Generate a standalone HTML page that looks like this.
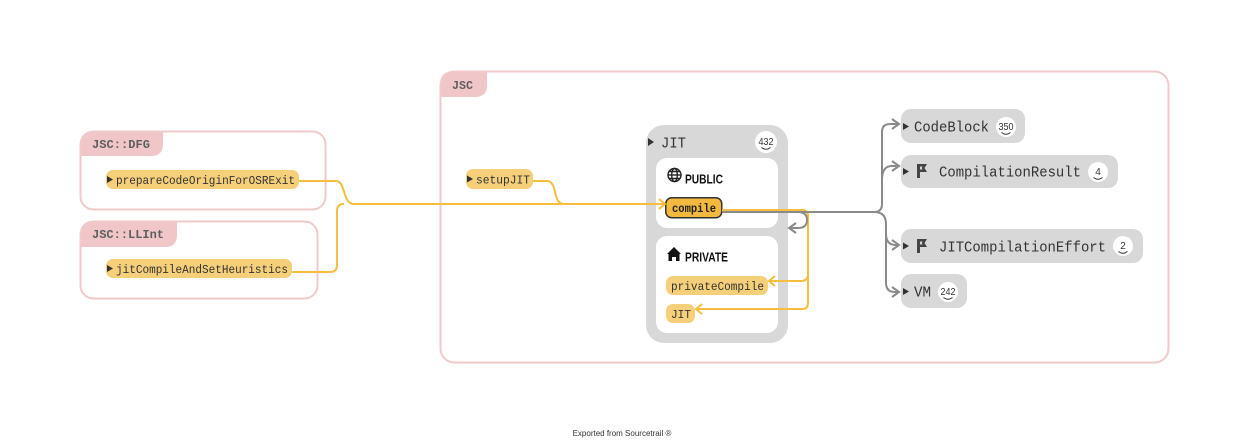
<!DOCTYPE html>
<html><head><meta charset="utf-8"><style>
html,body{margin:0;padding:0;background:#fff;}
svg{display:block;}
.mono{font-family:"Liberation Mono","DejaVu Sans Mono",monospace;}
.sans{font-family:"Liberation Sans","DejaVu Sans",sans-serif;}
</style></head><body>
<svg width="1240" height="443" viewBox="0 0 1240 443" xmlns="http://www.w3.org/2000/svg">
<rect width="1240" height="443" fill="#fff"/>

<!-- JSC::DFG -->
<path d="M80,156 V145 Q80,131 94,131 H163 V144 Q163,156 151,156 Z" fill="#f0c6c8"/>
<rect x="80.5" y="131.5" width="245" height="78" rx="13" fill="none" stroke="#f0caca" stroke-width="2"/>
<text x="92" y="148" class="mono" font-size="12" font-weight="bold" fill="#5e5e5e" textLength="58" lengthAdjust="spacingAndGlyphs">JSC::DFG</text>

<!-- JSC::LLInt -->
<path d="M80,247 V235 Q80,221 94,221 H177 V235 Q177,247 165,247 Z" fill="#f0c6c8"/>
<rect x="80.5" y="221.5" width="237" height="77" rx="13" fill="none" stroke="#f0caca" stroke-width="2"/>
<text x="92" y="238" class="mono" font-size="12" font-weight="bold" fill="#5e5e5e" textLength="72" lengthAdjust="spacingAndGlyphs">JSC::LLInt</text>

<!-- JSC -->
<path d="M440,97 V85 Q440,71 454,71 H487 V85 Q487,97 475,97 Z" fill="#f0c6c8"/>
<rect x="440.5" y="71.5" width="728" height="291" rx="14" fill="none" stroke="#f0caca" stroke-width="2"/>
<text x="452" y="89" class="mono" font-size="12" font-weight="bold" fill="#5e5e5e" textLength="21" lengthAdjust="spacingAndGlyphs">JSC</text>

<!-- Left nodes -->
<rect x="106" y="170" width="193" height="19" rx="7" fill="#f5cf79"/>
<path d="M107,176 L113,179.5 L107,183 Z" fill="#333"/>
<text x="116" y="184" class="mono" font-size="12" fill="#333" textLength="179" lengthAdjust="spacingAndGlyphs">prepareCodeOriginForOSRExit</text>

<rect x="106" y="259" width="186" height="19" rx="7" fill="#f5cf79"/>
<path d="M107,265 L113,268.5 L107,272 Z" fill="#333"/>
<text x="116" y="273" class="mono" font-size="12" fill="#333" textLength="172" lengthAdjust="spacingAndGlyphs">jitCompileAndSetHeuristics</text>

<!-- setupJIT -->
<rect x="466" y="169" width="67" height="20" rx="7" fill="#f5cf79"/>
<path d="M467,175.5 L473,179 L467,182.5 Z" fill="#333"/>
<text x="476" y="183.5" class="mono" font-size="12" fill="#333" textLength="54" lengthAdjust="spacingAndGlyphs">setupJIT</text>

<!-- JIT container -->
<rect x="646" y="125" width="142" height="218" rx="18" fill="#d8d8d8"/>
<path d="M648,138 L654,142 L648,146 Z" fill="#333"/>
<text x="661" y="147.5" class="mono" font-size="15" fill="#333" textLength="25" lengthAdjust="spacingAndGlyphs">JIT</text>
<circle cx="766" cy="142" r="11" fill="#fff"/>
<text x="766" y="145" text-anchor="middle" class="sans" font-size="10" fill="#333" textLength="15" lengthAdjust="spacingAndGlyphs">432</text>
<path d="M761.5,147.5 Q766,151 770.5,147.5" fill="none" stroke="#333" stroke-width="1"/>

<rect x="656" y="158" width="122" height="70" rx="11" fill="#fff"/>
<rect x="656" y="236" width="122" height="97" rx="11" fill="#fff"/>

<!-- globe -->
<g fill="none" stroke="#222" stroke-width="1.4">
<circle cx="674.5" cy="175" r="6.5"/>
<ellipse cx="674.5" cy="175" rx="2.8" ry="6.5"/>
<line x1="668" y1="175" x2="681" y2="175"/>
<path d="M669,171.5 H680 M669,178.5 H680"/>
</g>
<text x="685" y="183.5" class="sans" font-size="13" font-weight="bold" fill="#111" textLength="38" lengthAdjust="spacingAndGlyphs">PUBLIC</text>

<!-- house -->
<path d="M667,254 L674,247 L681,254 L679.5,254 L679.5,261 L676,261 L676,257 L672,257 L672,261 L668.5,261 L668.5,254 Z" fill="#111"/>
<text x="685" y="261.5" class="sans" font-size="13" font-weight="bold" fill="#111" textLength="43" lengthAdjust="spacingAndGlyphs">PRIVATE</text>

<!-- compile -->
<rect x="665.75" y="197.75" width="56" height="20" rx="6" fill="#f3b93e" stroke="#333" stroke-width="1.5"/>
<text x="672" y="212" class="mono" font-size="12" font-weight="bold" fill="#222" textLength="44" lengthAdjust="spacingAndGlyphs">compile</text>

<rect x="666" y="276" width="102" height="19" rx="7" fill="#f5cf79"/>
<text x="671" y="290" class="mono" font-size="12" fill="#333" textLength="93" lengthAdjust="spacingAndGlyphs">privateCompile</text>

<rect x="666" y="304" width="29" height="19" rx="7" fill="#f5cf79"/>
<text x="671" y="318" class="mono" font-size="12" fill="#333" textLength="20" lengthAdjust="spacingAndGlyphs">JIT</text>

<!-- right nodes -->
<rect x="901" y="109" width="124" height="34" rx="10" fill="#d8d8d8"/>
<path d="M903,123 L909,126.5 L903,130 Z" fill="#333"/>
<text x="914" y="131.5" class="mono" font-size="15" fill="#333" textLength="75" lengthAdjust="spacingAndGlyphs">CodeBlock</text>
<circle cx="1006" cy="127" r="10" fill="#fff"/>
<text x="1006" y="130" text-anchor="middle" class="sans" font-size="10" fill="#333" textLength="15" lengthAdjust="spacingAndGlyphs">350</text>
<path d="M1001.5,132.5 Q1006,136 1010.5,132.5" fill="none" stroke="#333" stroke-width="1"/>

<rect x="901" y="155" width="217" height="33" rx="10" fill="#d8d8d8"/>
<path d="M903,168 L909,171.5 L903,175 Z" fill="#333"/>
<path d="M917,164 H927 L924.5,168 L927,172 H920 V178 H917 Z M920,166.5 V169.5 H922.5 L921.8,168 L922.5,166.5 Z" fill="#444" fill-rule="evenodd"/>
<text x="939" y="176.5" class="mono" font-size="15" fill="#333" textLength="142" lengthAdjust="spacingAndGlyphs">CompilationResult</text>
<circle cx="1098" cy="172" r="10" fill="#fff"/>
<text x="1098" y="175" text-anchor="middle" class="sans" font-size="10" fill="#333">4</text>
<path d="M1093.5,177.5 Q1098,181 1102.5,177.5" fill="none" stroke="#333" stroke-width="1"/>

<rect x="901" y="229" width="242" height="34" rx="10" fill="#d8d8d8"/>
<path d="M903,242.5 L909,246 L903,249.5 Z" fill="#333"/>
<path d="M917,239 H927 L924.5,243 L927,247 H920 V253 H917 Z M920,241.5 V244.5 H922.5 L921.8,243 L922.5,241.5 Z" fill="#444" fill-rule="evenodd"/>
<text x="939" y="251.5" class="mono" font-size="15" fill="#333" textLength="167" lengthAdjust="spacingAndGlyphs">JITCompilationEffort</text>
<circle cx="1123" cy="246" r="10" fill="#fff"/>
<text x="1123" y="249" text-anchor="middle" class="sans" font-size="10" fill="#333">2</text>
<path d="M1118.5,251.5 Q1123,255 1127.5,251.5" fill="none" stroke="#333" stroke-width="1"/>

<rect x="901" y="274" width="66" height="34" rx="10" fill="#d8d8d8"/>
<path d="M903,288 L909,291.5 L903,295 Z" fill="#333"/>
<text x="914" y="296.5" class="mono" font-size="15" fill="#333" textLength="17" lengthAdjust="spacingAndGlyphs">VM</text>
<circle cx="948" cy="292" r="10" fill="#fff"/>
<text x="948" y="295" text-anchor="middle" class="sans" font-size="10" fill="#333" textLength="15" lengthAdjust="spacingAndGlyphs">242</text>
<path d="M943.5,297.5 Q948,301 952.5,297.5" fill="none" stroke="#333" stroke-width="1"/>

<!-- yellow edges (on top) -->
<g fill="none" stroke="#f5be3e" stroke-width="2">
<path d="M299,181 H336 C346,181 342,204 354,204 H664"/>
<path d="M292,272 H330 Q337,272 337,265 V211 Q337,204 344,204"/>
<path d="M533,181 H547 C558,181 552,204 564,204"/>
<path d="M659,199 L665,204 L659,209"/>
<path d="M722,210 H802 Q808,210 808,216 V303 Q808,309 802,309 H696"/>
<path d="M808,274 Q808,281 801,281 H769"/>
<path d="M775,276 L769,281 L775,286"/>
<path d="M702,304 L696,309 L702,314"/>
</g>

<!-- gray edges (on top) -->
<g fill="none" stroke="#8a8a8a" stroke-width="2">
<path d="M722,212 H874 Q882,212 882,204 V132 Q882,124 890,124 H899"/>
<path d="M882,180 Q882,166 892,166 H899"/>
<path d="M874,212 Q886,212 886,224 V283 Q886,292 895,292 H899"/>
<path d="M886,234 Q886,245 896,245 H899"/>
<path d="M798,212 Q807,212 807,220 Q807,228 798,228 H790"/>
<path d="M892,119 L899,124 L892,129"/>
<path d="M892,161 L899,166 L892,171"/>
<path d="M892,240 L899,245 L892,250"/>
<path d="M892,287 L899,292 L892,297"/>
<path d="M796,223 L789,228 L796,233"/>
</g>

<!-- footer -->
<text x="622" y="436" text-anchor="middle" class="sans" font-size="8" fill="#333">Exported from Sourcetrail ®</text>
</svg>
</body></html>
